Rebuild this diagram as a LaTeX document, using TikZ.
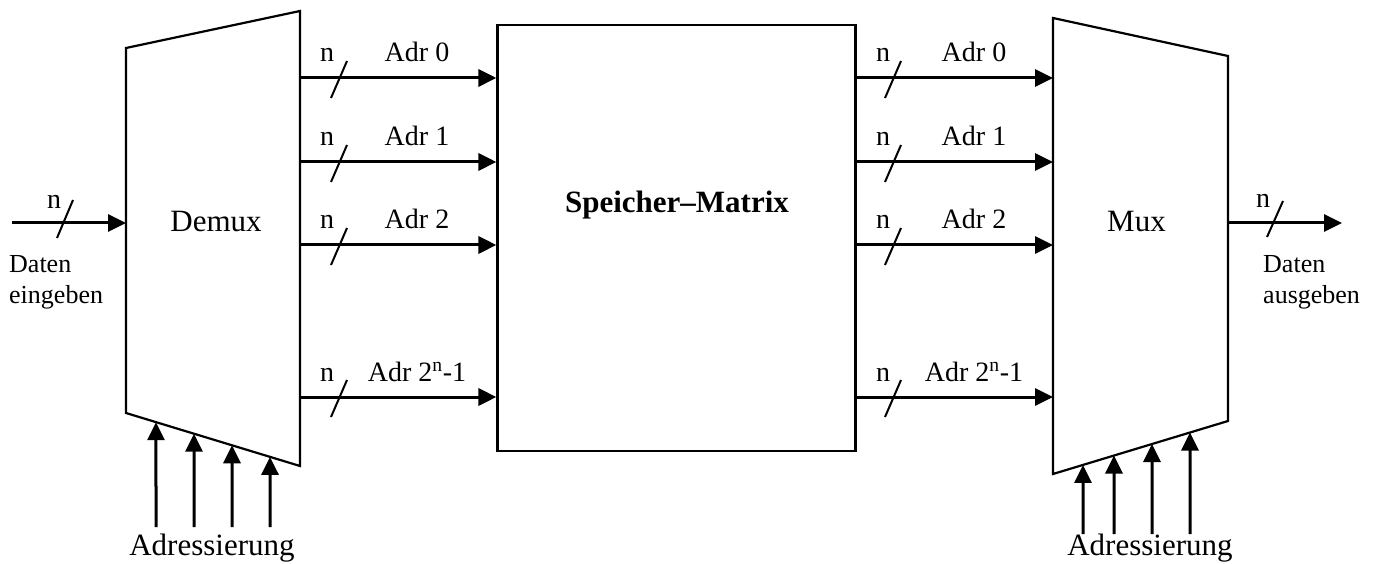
\documentclass[tikz,border=0pt]{standalone}
\usepackage{fontspec}
\setmainfont{Liberation Serif}
\usetikzlibrary{arrows.meta,calc}
\begin{document}
\begin{tikzpicture}[x=1pt,y=-1pt,
  blockline/.style={line width=2.2pt, line join=miter},
  bus/.style={line width=3pt, -{Triangle[length=18pt,width=17pt]}},
  slashline/.style={line width=2pt},
  lbl/.style={font=\fontsize{28}{32}\selectfont, anchor=base, inner sep=0pt},
  big/.style={font=\fontsize{31}{36}\selectfont, anchor=base, inner sep=0pt},
  small/.style={font=\fontsize{26}{32}\selectfont, align=left, anchor=base west, inner sep=0pt}]
\useasboundingbox (0,0) rectangle (1377,564);
% Demux
\coordinate (DTL) at (126,48); \coordinate (DTR) at (300,11);
\coordinate (DBR) at (300,466); \coordinate (DBL) at (126,413);
\draw[blockline] (DTL)--(DTR)--(DBR)--(DBL)--cycle;
\node[big] (demux) at (216,232) {Demux};
% Mux
\coordinate (MTL) at (1053,18); \coordinate (MTR) at (1228,56);
\coordinate (MBR) at (1228,421); \coordinate (MBL) at (1053,474);
\draw[blockline] (MTL)--(MTR)--(MBR)--(MBL)--cycle;
\node[big] (mux) at (1136.5,232) {Mux};
% Memory
\node[draw, blockline, minimum width=358pt, minimum height=426pt, inner sep=0pt] (mem) at (676.5,238) {};
\node[big, font=\fontsize{31}{36}\selectfont\bfseries] (memlbl) at (677,213) {Speicher–Matrix};
% buses
\foreach \i/\y/\t in {0/78/Adr 0, 1/162/Adr 1, 2/245/Adr 2, 3/397/{Adr 2\textsuperscript{n}-1}} {
  \coordinate (ls\i) at (300,\y);
  \coordinate (rs\i) at (1053,\y);
  \draw[bus] (ls\i) -- (mem.west |- ls\i);
  \draw[bus] (mem.east |- rs\i) -- (rs\i);
  \draw[slashline] (331,\y+20) -- (347,\y-17);
  \draw[slashline] (885,\y+20) -- (901,\y-17);
  \node[lbl] (nl\i) at (327,\y-16) {n};
  \node[lbl] (al\i) at (417,\y-16) {\t};
  \node[lbl] (nr\i) at (883,\y-16) {n};
  \node[lbl] (ar\i) at (974,\y-16) {\t};
}
% input
\coordinate (din) at (12,223);
\coordinate (demuxin) at (126,223);
\draw[bus] (din) -- (demuxin);
\draw[slashline] (57,238) -- (73,200);
\node[lbl] (nin) at (54,209) {n};
\node[small] (datin) at (9,304) {Daten\\eingeben};
% output
\coordinate (muxout) at (1228,223);
\coordinate (dout) at (1342,223);
\draw[bus] (muxout) -- (dout);
\draw[slashline] (1267,237) -- (1283,201);
\node[lbl] (nout) at (1263,208) {n};
\node[small] (datout) at (1263,304) {Daten\\ausgeben};
% addressing left
\foreach \x/\f [count=\k] in {156/0.1724, 194/0.3908, 232/0.6092, 270/0.8276} {
  \coordinate (la\k) at (\x,527);
  \coordinate (le\k) at ($(DBL)!\f!(DBR)$);
  \draw[bus] (la\k) -- (le\k);
}
\node[big] (adrl) at (212,555) {Adressierung};
% addressing right
\foreach \x/\f [count=\k] in {1083/0.1714, 1114/0.3486, 1152/0.5657, 1190/0.7829} {
  \coordinate (ra\k) at (\x,534);
  \coordinate (re\k) at ($(MBL)!\f!(MBR)$);
  \draw[bus] (ra\k) -- (re\k);
}
\node[big] (adrr) at (1150,555) {Adressierung};
\end{tikzpicture}
\end{document}
